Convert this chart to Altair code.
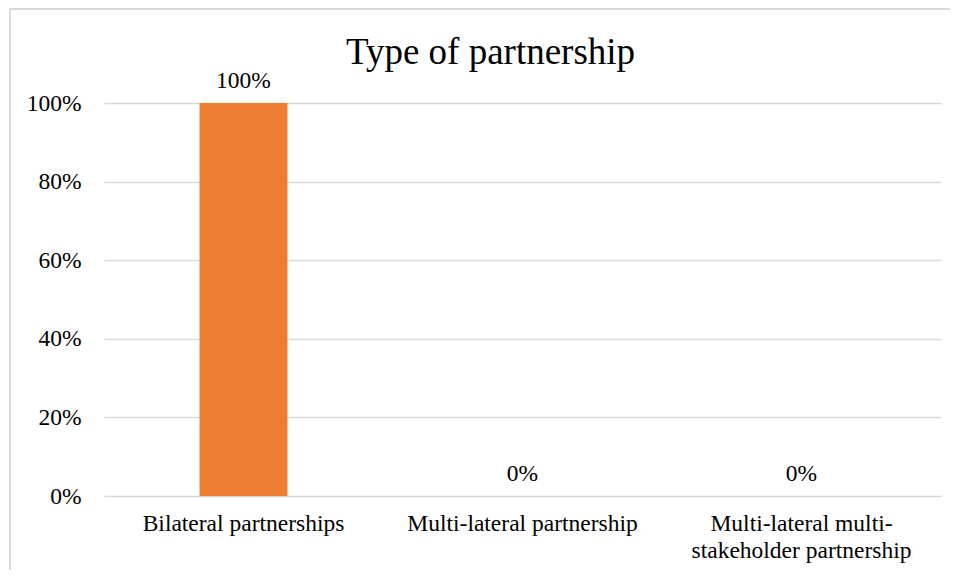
import altair as alt
import pandas as pd

categories = ["Bilateral partnerships", "Multi-lateral partnership", "Multi-lateral multi-stakeholder partnership"]
values = [1.0, 0.0, 0.0]
labels = ["100%", "0%", "0%"]

df = pd.DataFrame({"cat": categories, "val": values, "lab": labels})

FONT = "Times New Roman, Liberation Serif, serif"
W, H = 837, 393
FS = 23.5

x = alt.X("cat:N", sort=categories, title=None,
          scale=alt.Scale(paddingInner=0.685, paddingOuter=0.3425),
          axis=alt.Axis(labelAngle=0, labelFont=FONT, labelFontSize=FS, labelColor="#000000",
                        labelPadding=15, domain=False, ticks=False, labelLimit=400,
                        labelLineHeight=27,
                        labelExpr="datum.label == 'Multi-lateral multi-stakeholder partnership' ? ['Multi-lateral multi-', 'stakeholder partnership'] : datum.label"))
y = alt.Y("val:Q", title=None,
          scale=alt.Scale(domain=[0, 1], nice=False),
          axis=alt.Axis(format=".0%", values=[0, 0.2, 0.4, 0.6, 0.8, 1.0], labelFont=FONT,
                        labelFontSize=FS, labelColor="#000000", labelPadding=23,
                        domain=False, ticks=False, grid=True, gridColor="#d9d9d9", gridWidth=1.5))

border = alt.Chart(pd.DataFrame({"k": [0]})).mark_rect(
    fill=None, stroke="#d9d9d9", strokeWidth=2
).encode(x=alt.value(-94), x2=alt.value(W + 40), y=alt.value(-94), y2=alt.value(H + 120))

bars = alt.Chart(df).mark_bar(color="#ED7D31").encode(x=x, y=y)
text = alt.Chart(df).mark_text(font=FONT, fontSize=FS, color="#000000", baseline="alphabetic", dy=-15).encode(
    x=alt.X("cat:N", sort=categories), y="val:Q", text="lab:N")

chart = alt.layer(border, bars, text).properties(
    width=W, height=H,
    title=alt.TitleParams("Type of partnership", font=FONT, fontSize=37, fontWeight="normal",
                          color="#000000", anchor="middle", baseline="alphabetic", offset=-93, dx=-32),
    autosize=alt.AutoSizeParams(type="none"),
    padding={"left": 96, "top": 95, "right": 9, "bottom": 74},
).configure_view(stroke=None)

chart.save("out.html", embed_options={"renderer": "svg", "actions": False})
